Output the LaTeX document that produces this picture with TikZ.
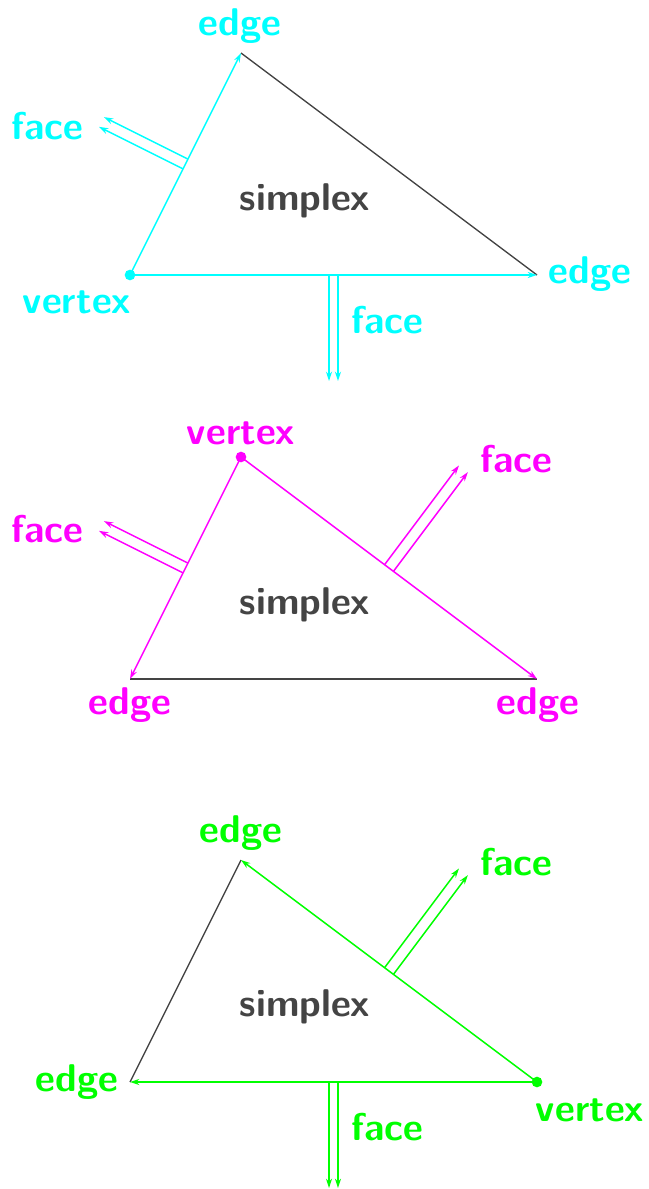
\documentclass[tikz,border=0pt]{standalone}
\usepackage{tikz}
\usetikzlibrary{arrows.meta, calc}
\definecolor{mycyan}{RGB}{0,255,255}
\definecolor{mymagenta}{RGB}{255,0,255}
\definecolor{mygreen}{RGB}{0,255,0}
\definecolor{mydark}{RGB}{68,68,68}
\tikzset{
  side/.style={draw=mydark, line width=0.4pt},
  sedge/.style={line width=0.45pt, -{Stealth[length=2.8pt, width=1.8pt]}},
  tag/.style={font=\fontsize{11.6}{14}\selectfont\sffamily\bfseries, inner sep=0pt, yshift=-0.6pt},
  dot/.style={circle, fill=#1, inner sep=0pt, minimum size=3.2pt}
}

\begin{document}
\begin{tikzpicture}[x=0.3pt, y=-0.3pt]
  \useasboundingbox (0,0) rectangle (648,1189);

  % cyan: vertex at lower left
  \coordinate (a1) at (241,53);
  \coordinate (b1) at (130,275);
  \coordinate (c1) at (537,275);
  \draw [side] (a1) -- (c1);
  \draw [sedge, mycyan] (b1) -- (a1);
  \draw [sedge, mycyan] (b1) -- (c1);
  \node [dot=mycyan] (v1) at (b1) {};
  \coordinate (p1) at ($(b1)!0.478!(a1)$);
  \coordinate (q1) at ($(b1)!0.522!(a1)$);
  \coordinate (p1e) at ($(p1)!28.2pt!90:(a1)$);
  \coordinate (q1e) at ($(q1)!28.2pt!90:(a1)$);
  \coordinate (r1) at ($(b1)!0.489!(c1)$);
  \coordinate (s1) at ($(b1)!0.511!(c1)$);
  \coordinate (r1e) at ($(r1)!31.8pt!-90:(c1)$);
  \coordinate (s1e) at ($(s1)!31.8pt!-90:(c1)$);
  \draw [sedge, mycyan] (p1) -- (p1e);
  \draw [sedge, mycyan] (q1) -- (q1e);
  \draw [sedge, mycyan] (r1) -- (r1e);
  \draw [sedge, mycyan] (s1) -- (s1e);
  \node [tag, text=mycyan] (ea1) at (240,24) {edge};
  \node [tag, text=mycyan] (fa1) at (47,124) {face};
  \node [tag, text=mydark] (sx1) at (305,199) {simplex};
  \node [tag, text=mycyan] (vx1) at (77,300) {vertex};
  \node [tag, text=mycyan] (ec1) at (590,272) {edge};
  \node [tag, text=mycyan] (fb1) at (387,318) {face};

  % magenta: vertex at top
  \coordinate (a2) at (241,457);
  \coordinate (b2) at (130,679);
  \coordinate (c2) at (537,679);
  \draw [side] (b2) -- (c2);
  \draw [sedge, mymagenta] (a2) -- (b2);
  \draw [sedge, mymagenta] (a2) -- (c2);
  \node [dot=mymagenta] (v2) at (a2) {};
  \coordinate (p2) at ($(b2)!0.478!(a2)$);
  \coordinate (q2) at ($(b2)!0.522!(a2)$);
  \coordinate (p2e) at ($(p2)!28.2pt!90:(a2)$);
  \coordinate (q2e) at ($(q2)!28.2pt!90:(a2)$);
  \coordinate (r2) at ($(a2)!0.485!(c2)$);
  \coordinate (s2) at ($(a2)!0.515!(c2)$);
  \coordinate (r2e) at ($(r2)!37.2pt!90:(c2)$);
  \coordinate (s2e) at ($(s2)!37.2pt!90:(c2)$);
  \draw [sedge, mymagenta] (p2) -- (p2e);
  \draw [sedge, mymagenta] (q2) -- (q2e);
  \draw [sedge, mymagenta] (r2) -- (r2e);
  \draw [sedge, mymagenta] (s2) -- (s2e);
  \node [tag, text=mymagenta] (vx2) at (241,431) {vertex};
  \node [tag, text=mymagenta] (fa2) at (47,527) {face};
  \node [tag, text=mymagenta] (fc2) at (516,457) {face};
  \node [tag, text=mydark] (sx2) at (305,603) {simplex};
  \node [tag, text=mymagenta] (eb2) at (130,703) {edge};
  \node [tag, text=mymagenta] (ec2) at (538,703) {edge};

  % green: vertex at lower right
  \coordinate (a3) at (241,860);
  \coordinate (b3) at (130,1082);
  \coordinate (c3) at (537,1082);
  \draw [side] (b3) -- (a3);
  \draw [sedge, mygreen] (c3) -- (a3);
  \draw [sedge, mygreen] (c3) -- (b3);
  \node [dot=mygreen] (v3) at (c3) {};
  \coordinate (p3) at ($(a3)!0.485!(c3)$);
  \coordinate (q3) at ($(a3)!0.515!(c3)$);
  \coordinate (p3e) at ($(p3)!37.2pt!90:(c3)$);
  \coordinate (q3e) at ($(q3)!37.2pt!90:(c3)$);
  \coordinate (r3) at ($(b3)!0.489!(c3)$);
  \coordinate (s3) at ($(b3)!0.511!(c3)$);
  \coordinate (r3e) at ($(r3)!31.8pt!-90:(c3)$);
  \coordinate (s3e) at ($(s3)!31.8pt!-90:(c3)$);
  \draw [sedge, mygreen] (p3) -- (p3e);
  \draw [sedge, mygreen] (q3) -- (q3e);
  \draw [sedge, mygreen] (r3) -- (r3e);
  \draw [sedge, mygreen] (s3) -- (s3e);
  \node [tag, text=mygreen] (ea3) at (241,831) {edge};
  \node [tag, text=mygreen] (fc3) at (516,860) {face};
  \node [tag, text=mydark] (sx3) at (305,1005) {simplex};
  \node [tag, text=mygreen] (eb3) at (77,1080) {edge};
  \node [tag, text=mygreen] (vx3) at (590,1108) {vertex};
  \node [tag, text=mygreen] (fb3) at (387,1125) {face};
\end{tikzpicture}
\end{document}
